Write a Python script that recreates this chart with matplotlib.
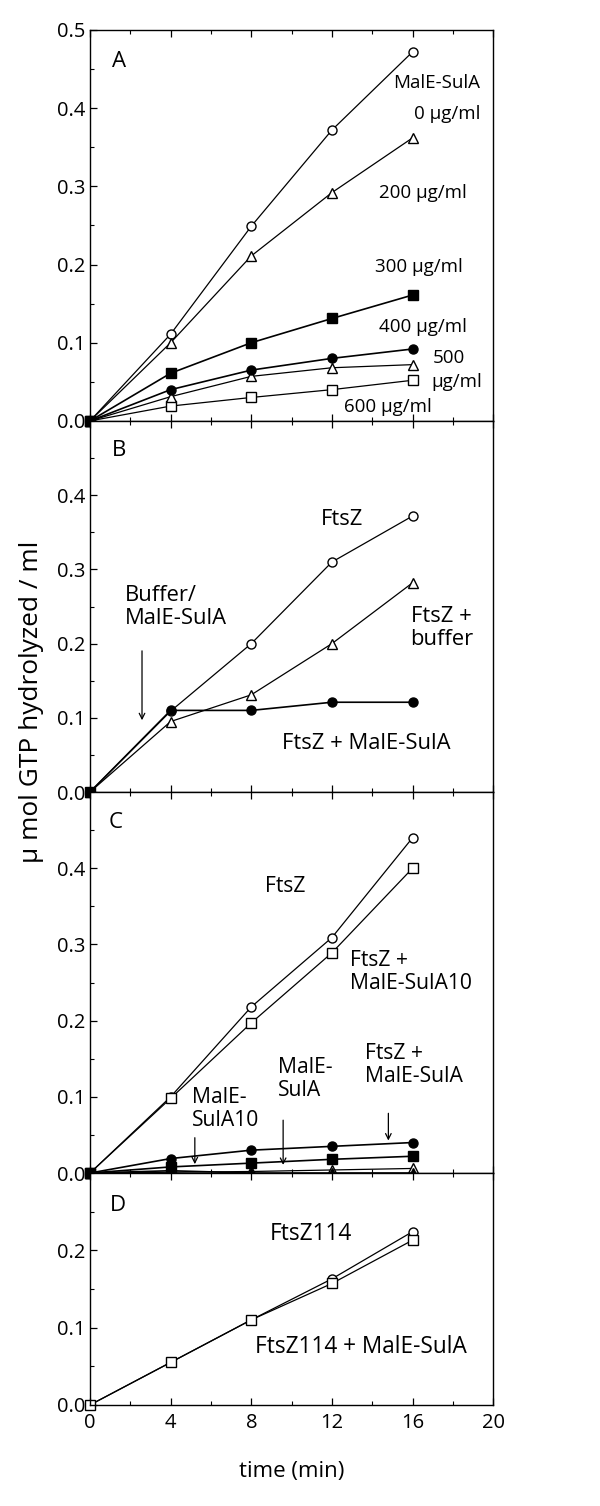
import matplotlib
matplotlib.use('Agg')
import matplotlib.pyplot as plt
from matplotlib.ticker import MultipleLocator, FormatStrFormatter

plt.rcParams['font.family'] = ['Open Sans', 'DejaVu Sans']

time_min = [0, 4, 8, 12, 16]

# Panel A: MalE-SulA concentration series
a_0 = [0, 0.111, 0.249, 0.372, 0.472]
a_200 = [0, 0.100, 0.211, 0.292, 0.362]
a_300 = [0, 0.061, 0.100, 0.131, 0.161]
a_400 = [0, 0.040, 0.065, 0.080, 0.092]
a_500 = [0, 0.031, 0.057, 0.068, 0.072]
a_600 = [0, 0.019, 0.030, 0.040, 0.052]

# Panel B
b_ftsz = [0, 0.109, 0.200, 0.310, 0.372]
b_buffer = [0, 0.095, 0.131, 0.200, 0.282]
b_sula = [0, 0.110, 0.110, 0.121, 0.121]

# Panel C
c_ftsz = [0, 0.100, 0.218, 0.309, 0.440]
c_sula10 = [0, 0.098, 0.197, 0.289, 0.400]
c_ftsz_sula = [0, 0.019, 0.030, 0.035, 0.040]
c_sula10_only = [0, 0.008, 0.013, 0.018, 0.022]
c_sula_only = [0, 0.001, 0.002, 0.004, 0.006]
c_blank = [0, 0.003, 0.0, 0.0, 0.0]

# Panel D
d_114 = [0, 0.055, 0.110, 0.163, 0.224]
d_114_sula = [0, 0.055, 0.110, 0.157, 0.213]

open_kw = dict(color='black', lw=0.9, markerfacecolor='white', markeredgecolor='black',
               markersize=6.5, clip_on=False)
fill_kw = dict(color='black', lw=1.2, markerfacecolor='black', markeredgecolor='black',
               markersize=6.5, clip_on=False)
txt_a = dict(fontsize=13.5, color='black')
txt_b = dict(fontsize=15.8, color='black')
txt_c = dict(fontsize=15.2, color='black')
txt_d = dict(fontsize=16.3, color='black')

fig = plt.figure(figsize=(6, 15.06), dpi=100)
left, width = 0.15, 0.672
axA = fig.add_axes([left, 0.7205, width, 0.2596])
axB = fig.add_axes([left, 0.4741, width, 0.2463])
axC = fig.add_axes([left, 0.2211, width, 0.2530])
axD = fig.add_axes([left, 0.0671, width, 0.1541])

for ax, top in [(axA, 0.5), (axB, 0.5), (axC, 0.5), (axD, 0.3)]:
    ax.set_xlim(0, 20)
    ax.set_ylim(0, top)
    ax.xaxis.set_major_locator(MultipleLocator(4))
    ax.xaxis.set_minor_locator(MultipleLocator(2))
    ax.yaxis.set_major_locator(MultipleLocator(0.1))
    ax.yaxis.set_minor_locator(MultipleLocator(0.05))
    ax.yaxis.set_major_formatter(FormatStrFormatter('%.1f'))
    ax.tick_params(which='both', direction='in', top=True, right=False, labelsize=14.5)
    ax.tick_params(which='major', length=5, width=0.9, pad=3)
    ax.tick_params(which='minor', length=3, width=0.8)
    for s in ax.spines.values():
        s.set_linewidth(1.0)
for ax in (axA, axB, axC):
    ax.tick_params(labelbottom=False)
for ax in (axB, axC):
    ax.set_yticks([0, 0.1, 0.2, 0.3, 0.4])
axD.set_yticks([0, 0.1, 0.2])
axD.tick_params(axis='x', pad=6)

# Panel A
axA.plot(time_min, a_0, marker='o', **open_kw)
axA.plot(time_min, a_200, marker='^', **open_kw)
axA.plot(time_min, a_600, marker='s', **open_kw)
axA.plot(time_min, a_500, marker='^', **open_kw)
axA.plot(time_min, a_400, marker='o', **fill_kw)
axA.plot(time_min, a_300, marker='s', **fill_kw)
axA.text(0.055, 0.92, 'A', transform=axA.transAxes, fontsize=16, va='center')
axA.text(17.2, 0.432, 'MalE-SulA', ha='center', va='center', **txt_a)
axA.text(17.7, 0.393, '0 μg/ml', ha='center', va='center', **txt_a)
axA.text(16.5, 0.292, '200 μg/ml', ha='center', va='center', **txt_a)
axA.text(16.3, 0.197, '300 μg/ml', ha='center', va='center', **txt_a)
axA.text(16.5, 0.120, '400 μg/ml', ha='center', va='center', **txt_a)
axA.text(17.8, 0.081, '500', ha='center', va='center', **txt_a)
axA.text(18.2, 0.050, 'μg/ml', ha='center', va='center', **txt_a)
axA.text(14.8, 0.018, '600 μg/ml', ha='center', va='center', **txt_a)

# Panel B
axB.plot(time_min, b_ftsz, marker='o', **open_kw)
axB.plot(time_min, b_buffer, marker='^', **open_kw)
axB.plot(time_min, b_sula, marker='o', **fill_kw)
axB.plot(time_min[:1], b_sula[:1], marker='s', **fill_kw)
axB.text(0.055, 0.92, 'B', transform=axB.transAxes, fontsize=16, va='center')
axB.text(12.5, 0.367, 'FtsZ', ha='center', va='center', **txt_b)
axB.text(1.74, 0.249, 'Buffer/\nMalE-SulA', ha='left', va='center', linespacing=1.1, **txt_b)
axB.annotate('', xy=(2.58, 0.093), xytext=(2.58, 0.194),
             arrowprops=dict(arrowstyle='->', color='black', lw=0.9))
axB.text(15.9, 0.221, 'FtsZ +\nbuffer', ha='left', va='center', linespacing=1.1, **txt_b)
axB.text(9.5, 0.066, 'FtsZ + MalE-SulA', ha='left', va='center', **txt_b)

# Panel C
axC.plot(time_min, c_ftsz, marker='o', **open_kw)
axC.plot(time_min, c_sula10, marker='s', **open_kw)
axC.plot(time_min, c_sula_only, marker='^', **open_kw)
axC.plot(time_min, c_blank, marker='^', **fill_kw)
axC.plot(time_min, c_ftsz_sula, marker='o', **fill_kw)
axC.plot(time_min, c_sula10_only, marker='s', **fill_kw)
axC.text(0.045, 0.92, 'C', transform=axC.transAxes, fontsize=16, va='center')
axC.text(8.7, 0.376, 'FtsZ', ha='left', va='center', **txt_c)
axC.text(12.9, 0.264, 'FtsZ +\nMalE-SulA10', ha='left', va='center', linespacing=1.1, **txt_c)
axC.text(5.06, 0.084, 'MalE-\nSulA10', ha='left', va='center', linespacing=1.1, **txt_c)
axC.text(9.33, 0.123, 'MalE-\nSulA', ha='left', va='center', linespacing=1.1, **txt_c)
axC.text(13.65, 0.142, 'FtsZ +\nMalE-SulA', ha='left', va='center', linespacing=1.1, **txt_c)
for ax_x, y0, y1 in [(5.2, 0.050, 0.008), (9.58, 0.073, 0.007), (14.8, 0.082, 0.039)]:
    axC.annotate('', xy=(ax_x, y1), xytext=(ax_x, y0),
                 arrowprops=dict(arrowstyle='->', color='black', lw=0.9))

# Panel D
axD.plot(time_min, d_114, marker='o', **open_kw)
axD.plot(time_min, d_114_sula, marker='s', **open_kw)
axD.text(0.05, 0.86, 'D', transform=axD.transAxes, fontsize=16, va='center')
axD.text(8.93, 0.221, 'FtsZ114', ha='left', va='center', **txt_d)
axD.text(8.19, 0.075, 'FtsZ114 + MalE-SulA', ha='left', va='center', **txt_d)
axD.set_xlabel('time (min)', fontsize=16, labelpad=20)

fig.text(0.053, 0.534, 'μ mol GTP hydrolyzed / ml', rotation=90, ha='center', va='center', fontsize=18.9)

fig.savefig('out.png', dpi=100)
